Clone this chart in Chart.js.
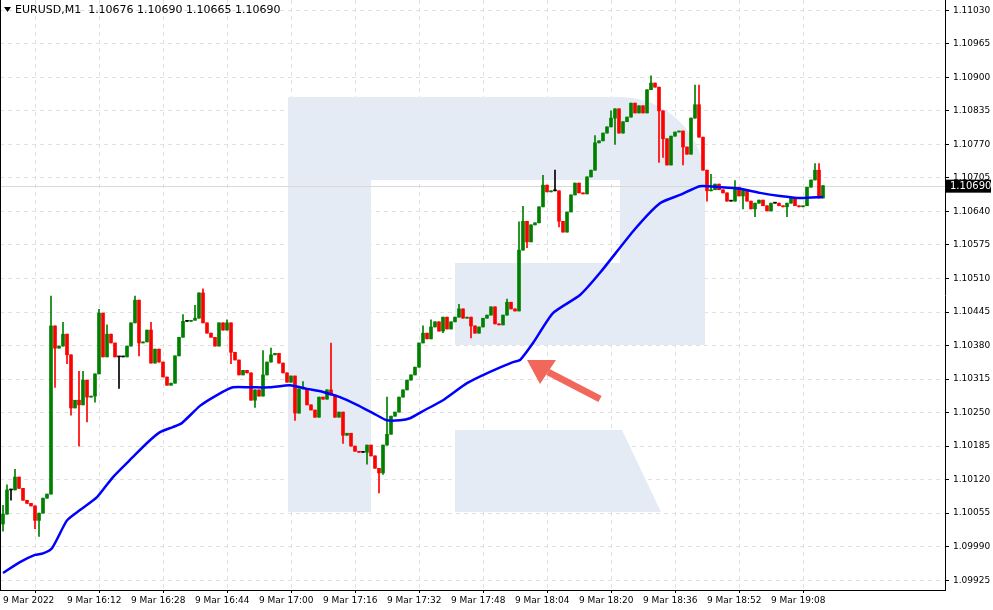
<!DOCTYPE html>
<html><head><meta charset="utf-8">
<script src="https://cdn.jsdelivr.net/npm/chart.js@4.4.1/dist/chart.umd.min.js"></script>
<style>html,body{margin:0;padding:0;background:#fff;}#wrap{width:993px;height:610px;position:relative;}</style>
</head><body><div id="wrap"><canvas id="c" width="993" height="610"></canvas></div>
<script>
const symbolTitle = "EURUSD,M1  1.10676 1.10690 1.10665 1.10690";
const firstOpen = 1.10034;
const closes = [
1.10053,1.10100,1.10100,1.10125,1.10103,1.10080,1.10074,1.10069,1.10041,1.10055,
1.10084,1.10092,1.10418,1.10375,1.10379,1.10402,1.10362,1.10259,1.10274,1.10265,
1.10313,1.10280,1.10282,1.10325,1.10443,1.10358,1.10402,1.10385,1.10358,1.10358,
1.10358,1.10379,1.10424,1.10468,1.10385,1.10387,1.10410,1.10346,1.10373,1.10348,
1.10319,1.10303,1.10307,1.10360,1.10396,1.10427,1.10427,1.10429,1.10433,1.10482,
1.10424,1.10404,1.10396,1.10379,1.10424,1.10410,1.10424,1.10367,1.10352,1.10323,
1.10332,1.10327,1.10274,1.10294,1.10282,1.10323,1.10348,1.10362,1.10365,1.10346,
1.10327,1.10309,1.10321,1.10249,1.10296,1.10297,1.10265,1.10255,1.10241,1.10280,
1.10276,1.10294,1.10284,1.10241,1.10251,1.10206,1.10210,1.10185,1.10175,1.10173,
1.10173,1.10187,1.10166,1.10142,1.10133,1.10187,1.10208,1.10243,1.10251,1.10280,
1.10294,1.10313,1.10323,1.10338,1.10385,1.10404,1.10393,1.10416,1.10426,1.10408,
1.10435,1.10412,1.10426,1.10435,1.10451,1.10433,1.10435,1.10418,1.10404,1.10416,
1.10433,1.10439,1.10455,1.10422,1.10420,1.10439,1.10464,1.10451,1.10447,1.10565,
1.10621,1.10581,1.10614,1.10618,1.10649,1.10691,1.10678,1.10680,1.10680,1.10621,
1.10600,1.10639,1.10672,1.10695,1.10676,1.10674,1.10707,1.10720,1.10773,1.10777,
1.10792,1.10804,1.10821,1.10839,1.10792,1.10814,1.10823,1.10850,1.10831,1.10845,
1.10831,1.10876,1.10889,1.10881,1.10835,1.10781,1.10730,1.10786,1.10794,1.10796,
1.10765,1.10751,1.10821,1.10847,1.10784,1.10720,1.10680,1.10682,1.10693,1.10682,
1.10676,1.10660,1.10660,1.10687,1.10670,1.10682,1.10660,1.10645,1.10656,1.10662,
1.10651,1.10641,1.10656,1.10656,1.10651,1.10649,1.10656,1.10666,1.10651,1.10649,
1.10651,1.10687,1.10701,1.10720,1.10666,1.10690];
// notable wick extremes: candle index -> price
const wickHighs = {0:1.10070,1:1.10110,3:1.10140,4:1.10125,12:1.10476,15:1.10425,19:1.10330,20:1.10330,24:1.10450,
  26:1.10420,33:1.10476,34:1.10430,37:1.10425,45:1.10440,48:1.10458,50:1.10490,56:1.10430,65:1.10370,67:1.10375,
  75:1.10310,82:1.10385,96:1.10280,105:1.10418,107:1.10430,114:1.10460,126:1.10470,129:1.10620,130:1.10650,
  135:1.10710,138:1.10720,148:1.10787,152:1.10835,162:1.10903,173:1.10885,174:1.10885,177:1.10712,183:1.10700,
  203:1.10733,204:1.10733};
const wickLows = {0:1.10020,2:1.10080,8:1.10025,9:1.10010,13:1.10299,16:1.10345,17:1.10245,19:1.10185,21:1.10232,
  23:1.10270,29:1.10297,34:1.10360,38:1.10355,44:1.10380,57:1.10345,63:1.10260,73:1.10235,79:1.10250,85:1.10190,
  91:1.10150,94:1.10094,95:1.10130,100:1.10280,110:1.10405,117:1.10395,131:1.10570,139:1.10610,153:1.10770,
  164:1.10735,165:1.10745,170:1.10730,176:1.10660,185:1.10645,188:1.10630,196:1.10630,205:1.10672};
const maPoints = [
[0,1.09939],[4.25,1.09960],[8,1.09974],[10,1.09977],[12.25,1.09987],[16,1.10041],[19.25,1.10061],[23.5,1.10086],
[27.5,1.10125],[32.5,1.10164],[36,1.10191],[39.25,1.10212],[42.5,1.10222],[44.75,1.10230],[49.25,1.10263],
[53.5,1.10284],[57.5,1.10299],[61.75,1.10299],[66.75,1.10299],[71.75,1.10303],[76,1.10296],[80,1.10290],
[84.25,1.10280],[88.5,1.10265],[92.5,1.10249],[96,1.10235],[99.25,1.10235],[101.75,1.10239],[105.5,1.10255],
[110,1.10274],[116,1.10307],[121.75,1.10329],[127.5,1.10348],[129.25,1.10352],[132.5,1.10385],[137.5,1.10443],
[144.25,1.10478],[149.25,1.10521],[158,1.10606],[164.25,1.10656],[169.25,1.10672],[174.25,1.10689],
[179.25,1.10687],[184.25,1.10684],[189.25,1.10676],[194.25,1.10670],[199.25,1.10666],[205,1.10668]];
const xTickLabels = ["9 Mar 2022","9 Mar 16:12","9 Mar 16:28","9 Mar 16:44","9 Mar 17:00","9 Mar 17:16","9 Mar 17:32","9 Mar 17:48","9 Mar 18:04","9 Mar 18:20","9 Mar 18:36","9 Mar 18:52","9 Mar 19:08"];
const yTickValues = [1.09925,1.09990,1.10055,1.10120,1.10185,1.10250,1.10315,1.10380,1.10445,1.10510,1.10575,1.10640,1.10705,1.10770,1.10835,1.10900,1.10965,1.11030];
const lastPrice = 1.10690;

const bodies=[], wicks=[], colors=[];
closes.forEach((c,i)=>{
  const o = i===0 ? firstOpen : closes[i-1];
  const col = c>o ? '#008000' : (c<o ? '#ff0000' : '#000000');
  colors.push(col);
  bodies.push({x:i, y:[o,c]});
  const hi = Math.max(o,c, wickHighs[i]||0), lo = Math.min(o,c, wickLows[i]||9);
  wicks.push({x:i, y:[lo,hi]});
});

const bg = {id:'bg', beforeDatasetsDraw(ch){
  const x=ch.ctx; x.save(); x.fillStyle='#e4ebf4';
  x.fillRect(288,97,83,415);
  x.beginPath(); x.moveTo(288,97); x.lineTo(620,97); x.arcTo(705,97,705,182,85); x.lineTo(705,345);
  x.lineTo(455,345); x.lineTo(455,263); x.lineTo(620,263); x.lineTo(620,180); x.lineTo(288,180); x.closePath(); x.fill();
  x.beginPath(); x.moveTo(455,430); x.lineTo(622,430); x.lineTo(661,512); x.lineTo(455,512); x.closePath(); x.fill();
  const y=ch.scales.y.getPixelForValue(lastPrice);
  x.strokeStyle='#d8d8d8'; x.lineWidth=1; x.beginPath(); x.moveTo(0,Math.round(y)+0.5); x.lineTo(945,Math.round(y)+0.5); x.stroke();
  x.strokeStyle='#000'; x.beginPath(); x.moveTo(0.5,0); x.lineTo(0.5,590); x.stroke();
  x.restore();
}, afterDraw(ch){
  const x=ch.ctx; x.save();
  x.strokeStyle='#f2675c'; x.fillStyle='#f2675c'; x.lineWidth=7; x.lineCap='butt';
  x.beginPath(); x.moveTo(600,399); x.lineTo(548,372); x.stroke();
  x.beginPath(); x.moveTo(527,360); x.lineTo(556,360); x.lineTo(540,384); x.closePath(); x.fill();
  x.fillStyle='#000'; x.font='11px "DejaVu Sans", sans-serif'; x.textBaseline='middle';
  x.beginPath(); x.moveTo(4,7); x.lineTo(11,7); x.lineTo(7.5,12); x.closePath(); x.fill();
  x.fillText(symbolTitle,15,10);
  const y=ch.scales.y.getPixelForValue(lastPrice);
  x.fillStyle='#000'; x.fillRect(946,y-6,45,13);
  x.fillStyle='#fff'; x.font='10px "DejaVu Sans", sans-serif'; x.fillText(lastPrice.toFixed(5),950,y+0.5);
  x.restore();
}};

new Chart(document.getElementById('c'),{
  type:'bar',
  data:{datasets:[
    {type:'line', data:maPoints.map(p=>({x:p[0],y:p[1]})), borderColor:'#0000ff', borderWidth:2.5, pointRadius:0, tension:0.2, order:0},
    {data:wicks, backgroundColor:colors, barThickness:1, grouped:false, order:2},
    {data:bodies, backgroundColor:colors, barThickness:3, minBarLength:1, grouped:false, order:1}
  ]},
  options:{
    responsive:false, animation:false, devicePixelRatio:1,
    layout:{padding:0},
    plugins:{legend:{display:false},tooltip:{enabled:false}},
    scales:{
      x:{type:'linear', min:-0.75, max:235.5, offset:false,
        afterBuildTicks(s){ s.ticks = xTickLabels.map((l,i)=>({value:i*16})); },
        afterFit(s){ s.height=20; s.paddingLeft=0; s.paddingRight=0; },
        ticks:{autoSkip:false, maxRotation:0, align:'start', padding:2, color:'#000', font:{family:'DejaVu Sans', size:9},
          callback:(v,i)=>xTickLabels[i]},
        grid:{color:'#e0e0e0', tickLength:3, tickColor:'#000', tickBorderDash:[]},
        border:{display:true, color:'#000', dash:[4,4]}},
      y:{position:'right', min:1.09906, max:1.11050,
        afterBuildTicks(s){ s.ticks = yTickValues.map(v=>({value:v})); },
        afterFit(s){ s.width=48; s.paddingTop=0; s.paddingBottom=0; },
        ticks:{padding:4, color:'#000', font:{family:'DejaVu Sans', size:9}, callback:v=>v.toFixed(5)},
        grid:{color:'#e0e0e0', tickLength:4, tickColor:'#000', tickBorderDash:[]},
        border:{display:true, color:'#000', dash:[4,4]}}
    }
  },
  plugins:[bg]
});
</script></body></html>
